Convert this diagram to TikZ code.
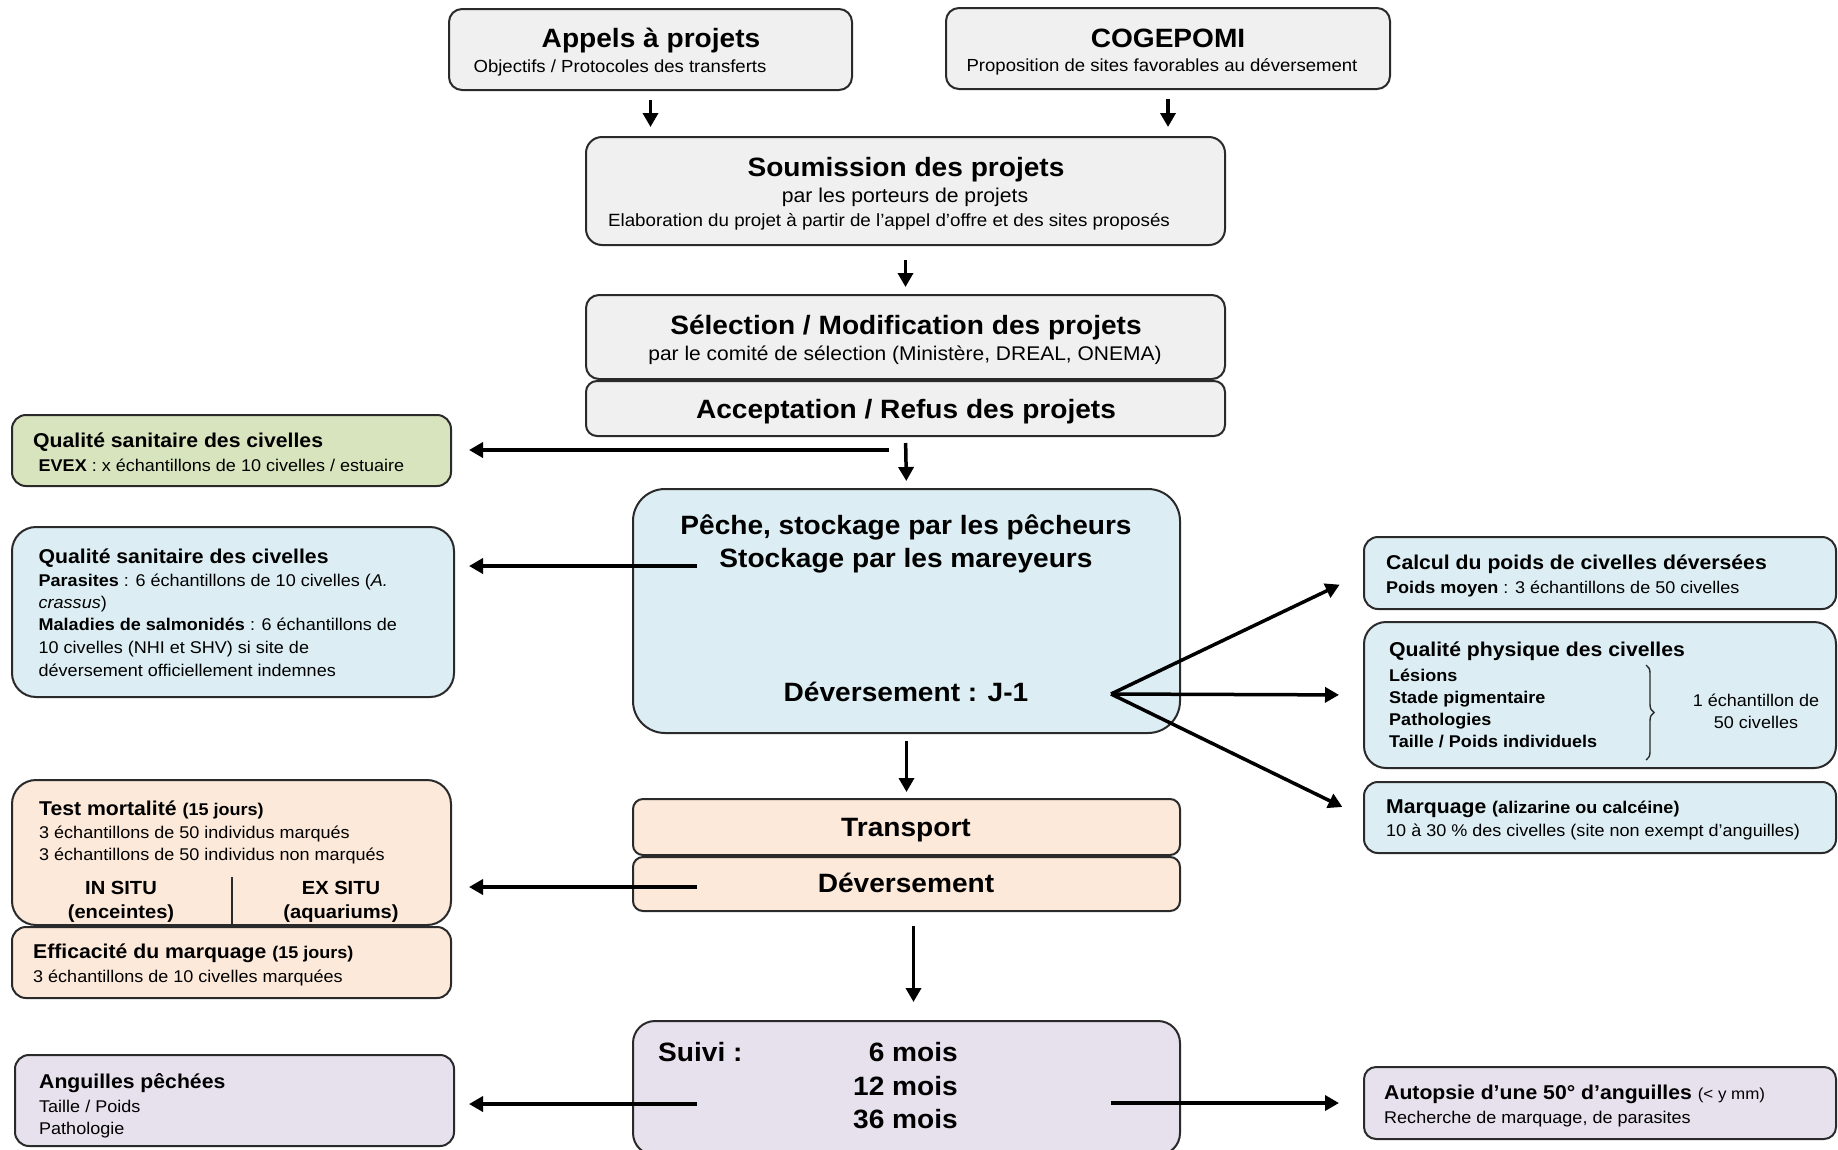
\documentclass[tikz,border=0pt]{standalone}
\usepackage{fontspec}
\setmainfont{Liberation Sans}[FakeStretch=1.06]
\usetikzlibrary{arrows.meta,decorations.pathreplacing}
\definecolor{bord}{HTML}{2A2A2A}
\definecolor{cgray}{HTML}{F0F0F0}
\definecolor{cgreen}{HTML}{D7E4BD}
\definecolor{cblue}{HTML}{DCEEF4}
\definecolor{cpeach}{HTML}{FCE9DA}
\definecolor{clav}{HTML}{E6E1ED}
\newcommand\fT{\fontsize{26.5}{30}\selectfont\bfseries}
\newcommand\fS{\fontsize{20}{24}\selectfont\bfseries}
\newcommand\fP{\fontsize{17}{20}\selectfont\bfseries}
\newcommand\fM{\fontsize{20}{24}\selectfont}
\newcommand\fN{\fontsize{17.5}{21}\selectfont}
\newcommand\fB{\fontsize{17}{20}\selectfont}
\newcommand\fBb{\fontsize{17}{20}\selectfont\bfseries}
\newcommand\fIS{\fontsize{19}{22}\selectfont\bfseries}
\newcommand\bx[6]{\node[#1, minimum width={(#5)-(#3)}, minimum height={(#6)-(#4)}] (#2) at ({((#3)+(#5))/2},{((#4)+(#6))/2}) {};}
\tikzset{
  box/.style={draw=bord, line width=2pt, inner sep=0pt, outer sep=0pt},
  gbox/.style={box, fill=cgray, rounded corners=13pt},
  tl/.style={inner sep=0pt, anchor=base west},
  tcn/.style={inner sep=0pt, anchor=base},
  tre/.style={inner sep=0pt, anchor=base east},
  arr/.style={line width=3.5pt, draw=black, -{Triangle[length=14pt,width=15pt]}},
}
\begin{document}
\begin{tikzpicture}[x=1pt,y=-1pt]
\useasboundingbox[fill=white] (0,0) rectangle (1838,1149);
% ---- boxes
\bx{gbox}{appels}{449}{9}{852}{90}
\bx{gbox}{cogepomi}{946}{8}{1390}{89}
\bx{gbox,rounded corners=16pt}{soum}{586}{137}{1225}{245}
\bx{gbox}{selec}{586}{295}{1225}{379}
\bx{gbox,rounded corners=11pt}{accept}{586}{381}{1225}{436}
\bx{box,fill=cgreen,rounded corners=14pt}{qsv}{12}{415}{451}{486}
\bx{box,fill=cblue,rounded corners=32pt}{peche}{633}{489}{1180}{733}
\bx{box,fill=cblue,rounded corners=24pt}{qsb}{12}{527}{454}{697}
\bx{box,fill=cblue,rounded corners=14pt}{calc}{1364}{537}{1836}{609}
\bx{box,fill=cblue,rounded corners=22pt}{qphys}{1364}{622}{1836}{768}
\bx{box,fill=cblue,rounded corners=14pt}{marq}{1364}{782}{1836}{853}
\bx{box,fill=cpeach,rounded corners=10pt}{transp}{633}{799}{1180}{855}
\bx{box,fill=cpeach,rounded corners=10pt}{dever}{633}{857}{1180}{911}
\bx{box,fill=cpeach,rounded corners=24pt}{test}{12}{780}{451}{925}
\bx{box,fill=cpeach,rounded corners=14pt}{effic}{12}{927}{451}{998}
\bx{box,fill=clav,rounded corners=22pt}{suivi}{633}{1021}{1180}{1155}
\bx{box,fill=clav,rounded corners=14pt}{angu}{15}{1055}{454}{1146}
\bx{box,fill=clav,rounded corners=12pt}{autop}{1364}{1067}{1836}{1139}
% ---- texts: top
\node[tcn] (t-appels) at (651,47) {\fT Appels à projets};
\node[tcn] (s-appels) at (620,72.5) {\fN Objectifs / Protocoles des transferts};
\node[tcn] (t-cog) at (1168,47) {\fT COGEPOMI};
\node[tcn] (s-cog) at (1162,71.5) {\fN Proposition de sites favorables au déversement};
\node[tcn] (t-soum) at (906,176) {\fT Soumission des projets};
\node[tcn] (s-soum) at (905,202.5) {\fM par les porteurs de projets};
\node[tcn] (u-soum) at (889,226) {\fontsize{17.7}{21}\selectfont Elaboration du projet à partir de l’appel d’offre et des sites proposés};
\node[tcn] (t-sel) at (906,334.5) {\fT Sélection / Modification des projets};
\node[tcn] (s-sel) at (905,360.5) {\fontsize{19.8}{23}\selectfont par le comité de sélection (Ministère, DREAL, ONEMA)};
\node[tcn] (t-acc) at (906,418) {\fT Acceptation / Refus des projets};
% centre column
\node[tcn] (t-pe1) at (906,534) {\fT Pêche, stockage par les pêcheurs};
\node[tcn] (t-pe2) at (906,567) {\fT Stockage par les mareyeurs};
\node[tcn] (t-pe3) at (906,701.5) {\fT Déversement : J-1};
\node[tcn] (t-tr) at (906,836) {\fT Transport};
\node[tcn] (t-dv) at (906,892.5) {\fT Déversement};
\node[tl] (t-su) at (658,1061) {\fT Suivi :};
\node[tre] (m6) at (958,1061) {\fT 6 mois};
\node[tre] (m12) at (958,1095) {\fT 12 mois};
\node[tre] (m36) at (958,1128) {\fT 36 mois};
% left column
\node[tl] (t-qsv) at (33,447) {\fS Qualité sanitaire des civelles};
\node[tl] (l-qsv) at (38.5,471) {\fB\textbf{EVEX} : x échantillons de 10 civelles / estuaire};
\node[tl] (t-qsb) at (38.5,563) {\fS Qualité sanitaire des civelles};
\node[tl] (l-qsb1) at (38.5,586.7) {\fB\textbf{Parasites} : 6 échantillons de 10 civelles (\textit{A.}};
\node[tl] (l-qsb2) at (38.5,608.3) {\fB\textit{crassus})};
\node[tl] (l-qsb3) at (38.5,630) {\fB\textbf{Maladies de salmonidés} : 6 échantillons de};
\node[tl] (l-qsb4) at (38.5,653.3) {\fB 10 civelles (NHI et SHV) si site de};
\node[tl] (l-qsb5) at (38.5,676.7) {\fB déversement officiellement indemnes};
\node[tl] (t-test) at (39,815) {\fS Test mortalité {\fP(15 jours)}};
\node[tl] (l-test1) at (39,838.3) {\fB 3 échantillons de 50 individus marqués};
\node[tl] (l-test2) at (39,860.7) {\fB 3 échantillons de 50 individus non marqués};
\node[tcn] (insitu) at (121,894) {\fIS IN SITU};
\node[tcn] (encein) at (121,918) {\fIS (enceintes)};
\node[tcn] (exsitu) at (341,894) {\fIS EX SITU};
\node[tcn] (aquar) at (341,918) {\fIS (aquariums)};
\draw[line width=1.5pt, draw=bord] (232,877) -- (232,925);
\node[tl] (t-eff) at (33,958) {\fS Efficacité du marquage {\fP(15 jours)}};
\node[tl] (l-eff) at (33,982.7) {\fB 3 échantillons de 10 civelles marquées};
\node[tl] (t-ang) at (39,1088) {\fS Anguilles pêchées};
\node[tl] (l-ang1) at (39,1112.7) {\fB Taille / Poids};
\node[tl] (l-ang2) at (39,1134.3) {\fB Pathologie};
% right column
\node[tl] (t-calc) at (1386,569) {\fS Calcul du poids de civelles déversées};
\node[tl] (l-calc) at (1386,593) {\fB\textbf{Poids moyen} : 3 échantillons de 50 civelles};
\node[tl] (t-qp) at (1389,656.7) {\fS Qualité physique des civelles};
\node[tl] (l-qp1) at (1389,681.7) {\fBb Lésions};
\node[tl] (l-qp2) at (1389,703.3) {\fBb Stade pigmentaire};
\node[tl] (l-qp3) at (1389,725) {\fBb Pathologies};
\node[tl] (l-qp4) at (1389,747.3) {\fBb Taille / Poids individuels};
\draw[line width=1.4pt, draw=bord, decorate, decoration={brace, amplitude=8pt}] (1646,665) -- (1646,760);
\node[tcn] (l-qp5) at (1756,706.7) {\fB 1 échantillon de};
\node[tcn] (l-qp6) at (1756,728.3) {\fB 50 civelles};
\node[tl] (t-marq) at (1386,813.3) {\fS Marquage {\fP(alizarine ou calcéine)}};
\node[tl] (l-marq) at (1386,836.7) {\fB 10 à 30 \% des civelles (site non exempt d’anguilles)};
\node[tl] (t-aut) at (1384,1099) {\fS Autopsie d’une 50° d’anguilles {\fontsize{16}{19}\selectfont\mdseries(< y mm)}};
\node[tl] (l-aut) at (1384,1123) {\fB Recherche de marquage, de parasites};
% ---- connectors
\draw[arr, shorten <=10pt, shorten >=10pt] (appels.south) -- (appels.south |- soum.north);
\draw[arr, shorten <=10pt, shorten >=10pt] (cogepomi.south) -- (cogepomi.south |- soum.north);
\draw[arr, shorten <=15pt, shorten >=8pt] (soum.south) -- (selec.north);
\draw[arr, shorten <=7pt, shorten >=8pt] (accept.south) -- (peche.north);
\coordinate (g0) at (889,450);
\draw[arr, shorten >=18pt] (g0) -- (g0 -| qsv.east);
\coordinate (b0) at (697,566);
\draw[arr, shorten >=15pt] (b0) -- (b0 -| qsb.east);
\coordinate (fan) at (1111,694);
\draw[arr, shorten >=27pt] (fan) -- (calc.west);
\draw[arr, shorten >=25pt] (fan) -- (qphys.west);
\draw[arr, shorten >=24pt] (fan) -- (marq.west);
\draw[arr, shorten <=8pt, shorten >=7pt] (peche.south) -- (transp.north);
\coordinate (d0) at (697,887);
\draw[arr, shorten >=18pt] (d0) -- (d0 -| test.east);
\draw[arr, shorten <=15pt, shorten >=19pt] ([xshift=7pt]dever.south) -- ([xshift=7pt]dever.south |- suivi.north);
\coordinate (s0) at (697,1104);
\draw[arr, shorten >=15pt] (s0) -- (s0 -| angu.east);
\coordinate (s1) at (1111,1103);
\draw[arr, shorten >=25pt] (s1) -- (s1 -| autop.west);
\end{tikzpicture}
\end{document}
